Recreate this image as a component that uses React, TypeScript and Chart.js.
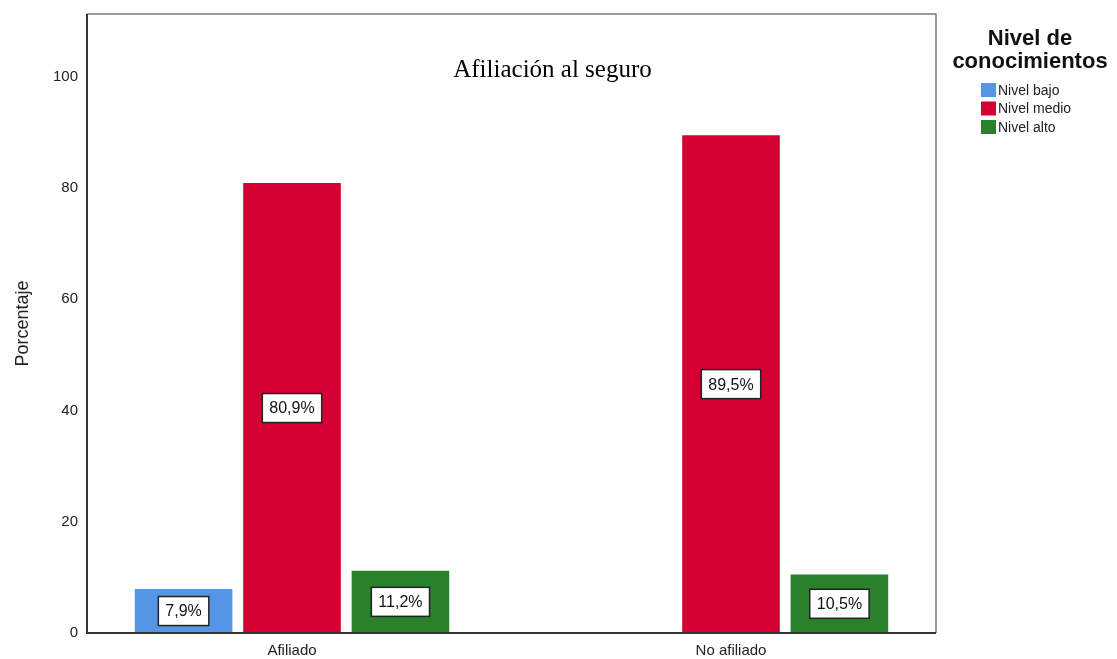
import React, { useEffect, useRef } from "react";
import { Chart, registerables } from "chart.js";

Chart.register(...registerables);

const CATEGORIES = ["Afiliado", "No afiliado"];
const SERIES_NAMES = ["Nivel bajo", "Nivel medio", "Nivel alto"];
const NIVEL_BAJO = [7.9, null];
const NIVEL_MEDIO = [80.9, 89.5];
const NIVEL_ALTO = [11.2, 10.5];
const SERIES_COLORS = ["#5595e5", "#d50032", "#298229"];
const Y_TICKS = [0, 20, 40, 60, 80, 100];
const TITLE = "Afiliación al seguro";
const Y_TITLE = "Porcentaje";
const LEGEND_TITLE = ["Nivel de", "conocimientos"];

const SANS = '"Liberation Sans", Arial, sans-serif';

const fmt = (v: number) => v.toFixed(1).replace(".", ",") + "%";

export default function App() {
  const ref = useRef<HTMLCanvasElement | null>(null);

  useEffect(() => {
    document.body.style.margin = "0";
    const canvas = ref.current;
    if (!canvas) return;

    const seriesValues = [NIVEL_BAJO, NIVEL_MEDIO, NIVEL_ALTO];
    const datasets = SERIES_NAMES.map((name, s) => ({
      label: name,
      data: CATEGORIES.map((_, i) => ({ x: i, y: seriesValues[s][i] })),
      backgroundColor: SERIES_COLORS[s],
      borderWidth: 0,
      categoryPercentage: 0.741,
      barPercentage: 0.9,
    }));

    const framePlugin = {
      id: "frame",
      afterDraw(chart: any) {
        const { ctx, chartArea: a } = chart;
        ctx.save();
        ctx.strokeStyle = "#7a7a7a";
        ctx.lineWidth = 1.5;
        ctx.beginPath();
        ctx.moveTo(a.left, a.top);
        ctx.lineTo(a.right, a.top);
        ctx.lineTo(a.right, a.bottom);
        ctx.stroke();
        ctx.strokeStyle = "#333";
        ctx.lineWidth = 2;
        ctx.beginPath();
        ctx.moveTo(a.left, a.top);
        ctx.lineTo(a.left, a.bottom);
        ctx.lineTo(a.right, a.bottom);
        ctx.stroke();
        ctx.restore();
      },
    };

    const labelPlugin = {
      id: "boxLabels",
      afterDatasetsDraw(chart: any) {
        const ctx = chart.ctx;
        ctx.save();
        ctx.font = `16px ${SANS}`;
        ctx.textAlign = "center";
        ctx.textBaseline = "middle";
        chart.data.datasets.forEach((ds: any, di: number) => {
          const meta = chart.getDatasetMeta(di);
          meta.data.forEach((bar: any, i: number) => {
            const v = ds.data[i].y;
            if (v == null) return;
            const text = fmt(v);
            const cx = bar.x;
            const cy = (bar.y + bar.base) / 2;
            const w = ctx.measureText(text).width + 14;
            const h = 29;
            ctx.fillStyle = "#fff";
            ctx.fillRect(cx - w / 2, cy - h / 2, w, h);
            ctx.strokeStyle = "#222";
            ctx.lineWidth = 1.5;
            ctx.strokeRect(cx - w / 2, cy - h / 2, w, h);
            ctx.fillStyle = "#111";
            ctx.fillText(text, cx, cy + 1);
          });
        });
        ctx.restore();
      },
    };

    const textPlugin = {
      id: "texts",
      afterDraw(chart: any) {
        const { ctx, chartArea: a, width } = chart;
        ctx.save();
        ctx.fillStyle = "#000";
        ctx.font = `25px "Liberation Serif", "Times New Roman", serif`;
        ctx.textAlign = "center";
        ctx.textBaseline = "alphabetic";
        ctx.fillText(TITLE, width / 2 - 6, a.top + 63);
        const lx = a.right + 94;
        ctx.font = `bold 22px ${SANS}`;
        ctx.fillStyle = "#111";
        LEGEND_TITLE.forEach((line, i) => {
          ctx.fillText(line, lx, 45 + i * 23);
        });
        ctx.textAlign = "left";
        ctx.textBaseline = "middle";
        ctx.font = `14px ${SANS}`;
        SERIES_NAMES.forEach((name, i) => {
          const y = 90 + i * 18.5;
          ctx.fillStyle = SERIES_COLORS[i];
          ctx.fillRect(a.right + 45, y - 7, 15, 14);
          ctx.fillStyle = "#222";
          ctx.fillText(name, a.right + 62, y + 1);
        });
        ctx.restore();
      },
    };

    const chart = new Chart(canvas, {
      type: "bar",
      data: { datasets: datasets as any },
      options: {
        animation: false,
        responsive: false,
        devicePixelRatio: 1,
        layout: { padding: { top: 14, right: 181, left: 0, bottom: 0 } },
        plugins: {
          legend: { display: false },
          tooltip: { enabled: false },
          title: { display: false },
        },
        scales: {
          x: {
            type: "linear",
            min: -0.467,
            max: 1.467,
            offset: false,
            grid: { display: false, drawTicks: false, offset: false },
            border: { display: false },
            afterBuildTicks(scale: any) {
              scale.ticks = CATEGORIES.map((_, i) => ({ value: i }));
            },
            afterFit(scale: any) {
              scale.height = 26;
              scale.paddingLeft = 0;
              scale.paddingRight = 0;
            },
            ticks: {
              padding: 9,
              color: "#222",
              font: { family: SANS, size: 15 },
              callback: (v: any) => CATEGORIES[Math.round(Number(v))],
            },
          },
          y: {
            min: 0,
            max: 111.3,
            grid: { display: false, drawTicks: false },
            border: { display: false },
            afterBuildTicks(scale: any) {
              scale.ticks = Y_TICKS.map((v) => ({ value: v }));
            },
            afterFit(scale: any) {
              scale.width = 87;
              scale.paddingTop = 0;
              scale.paddingBottom = 0;
            },
            ticks: {
              padding: 9,
              color: "#222",
              font: { family: SANS, size: 15 },
            },
            title: {
              display: true,
              text: Y_TITLE,
              color: "#222",
              font: { family: SANS, size: 18 },
              padding: { top: 12, bottom: 0 },
            },
          },
        },
      },
      plugins: [framePlugin, labelPlugin, textPlugin],
    });

    return () => chart.destroy();
  }, []);

  return (
    <div style={{ position: "absolute", left: 0, top: 0, width: 1117, height: 659, background: "#fff" }}>
      <canvas ref={ref} width={1117} height={659} />
    </div>
  );
}
